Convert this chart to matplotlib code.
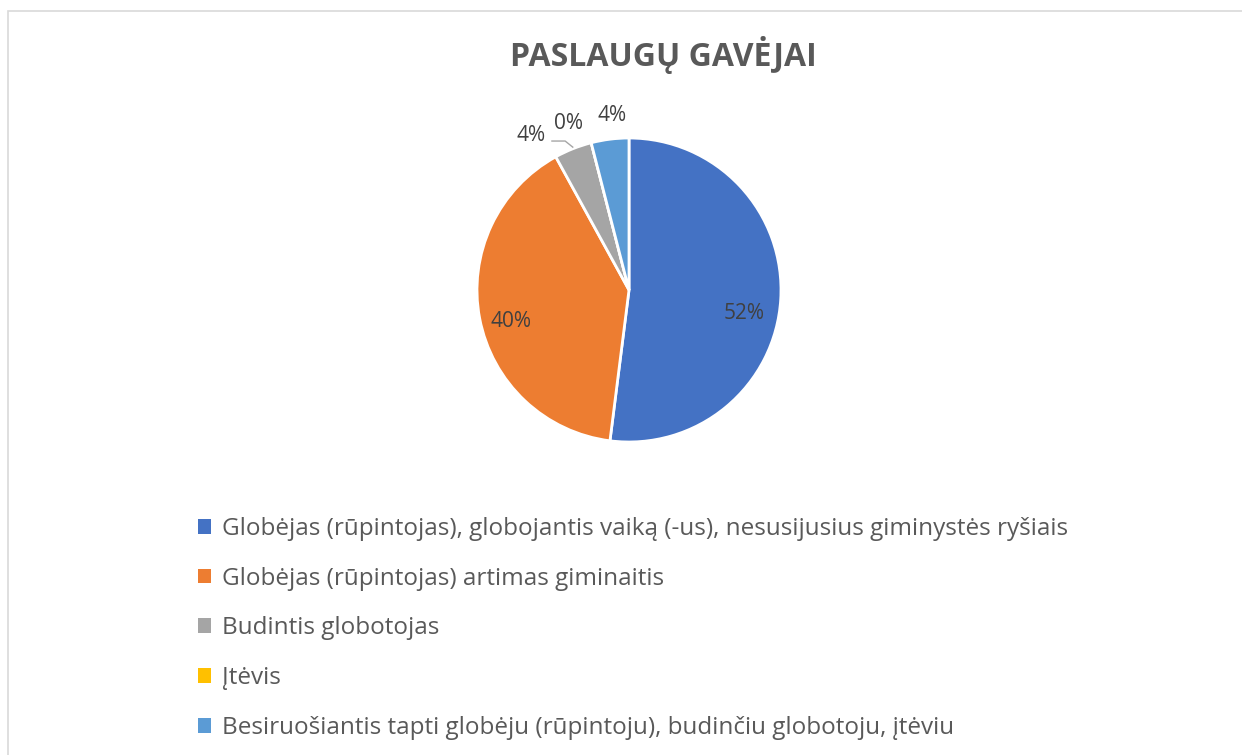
import numpy as np
import matplotlib
matplotlib.use("Agg")
import matplotlib.pyplot as plt
from matplotlib.patches import Rectangle

plt.rcParams["font.family"] = ["Open Sans", "DejaVu Sans"]

TITLE = "PASLAUGŲ GAVĖJAI"
CATEGORIES = [
    "Globėjas (rūpintojas), globojantis vaiką (-us), nesusijusius giminystės ryšiais",
    "Globėjas (rūpintojas) artimas giminaitis",
    "Budintis globotojas",
    "Įtėvis",
    "Besiruošiantis tapti globėju (rūpintoju), budinčiu globotoju, įtėviu",
]
COUNTS = [13, 10, 1, 0, 1]
COLORS = ["#4472C4", "#ED7D31", "#A5A5A5", "#FFC000", "#5B9BD5"]

TEXT = "#595959"
LABEL = "#404040"

fig = plt.figure(figsize=(12.42, 7.55), dpi=100)

# chart area border
fig.patches.append(Rectangle((8 / 1242, -0.05), 1.1, 1 - 11 / 755 + 0.05,
                             transform=fig.transFigure, fill=False,
                             edgecolor="#D9D9D9", linewidth=1.2))

ax = fig.add_axes([477 / 1242, 313 / 755, 304 / 1242, 304 / 755])
wedges, _ = ax.pie(COUNTS, colors=COLORS, startangle=90, counterclock=False,
                   radius=1.0, wedgeprops=dict(edgecolor="white", linewidth=2))
ax.set_xlim(-1, 1)
ax.set_ylim(-1, 1)
ax.set_aspect("equal")
ax.axis("off")

total = sum(COUNTS)
pcts = [f"{round(100 * c / total)}%" for c in COUNTS]

# (angle offset in degrees, radius) for each label relative to wedge middle
label_pos = [(-8, 0.77), (4, 0.80), (10.9, 1.205), (5.6, 1.165), (-1.8, 1.15)]
for w, p, (dang, r) in zip(wedges, pcts, label_pos):
    mid = np.deg2rad((w.theta1 + w.theta2) / 2 + dang)
    ax.text(r * np.cos(mid), r * np.sin(mid), p, ha="center", va="center",
            fontsize=15, color=LABEL, clip_on=False)

# leader line for the grey slice
ax.plot([-0.507, -0.42, -0.37], [0.98, 0.98, 0.94], color="#A6A6A6",
        linewidth=1, clip_on=False)

fig.text(663 / 1242, 1 - 55 / 755, TITLE, ha="center", va="center",
         fontsize=23, fontweight="bold", color=TEXT)

leg = fig.legend(wedges, CATEGORIES, loc="upper left",
                 bbox_to_anchor=(176 / 1242, 1 - 495 / 755), frameon=False,
                 fontsize=17.5, labelcolor=TEXT, handlelength=0.55,
                 handleheight=0.55, handletextpad=0.45, labelspacing=1.06)
for h in leg.legend_handles:
    h.set_edgecolor("none")

fig.savefig("out.png", dpi=100)
